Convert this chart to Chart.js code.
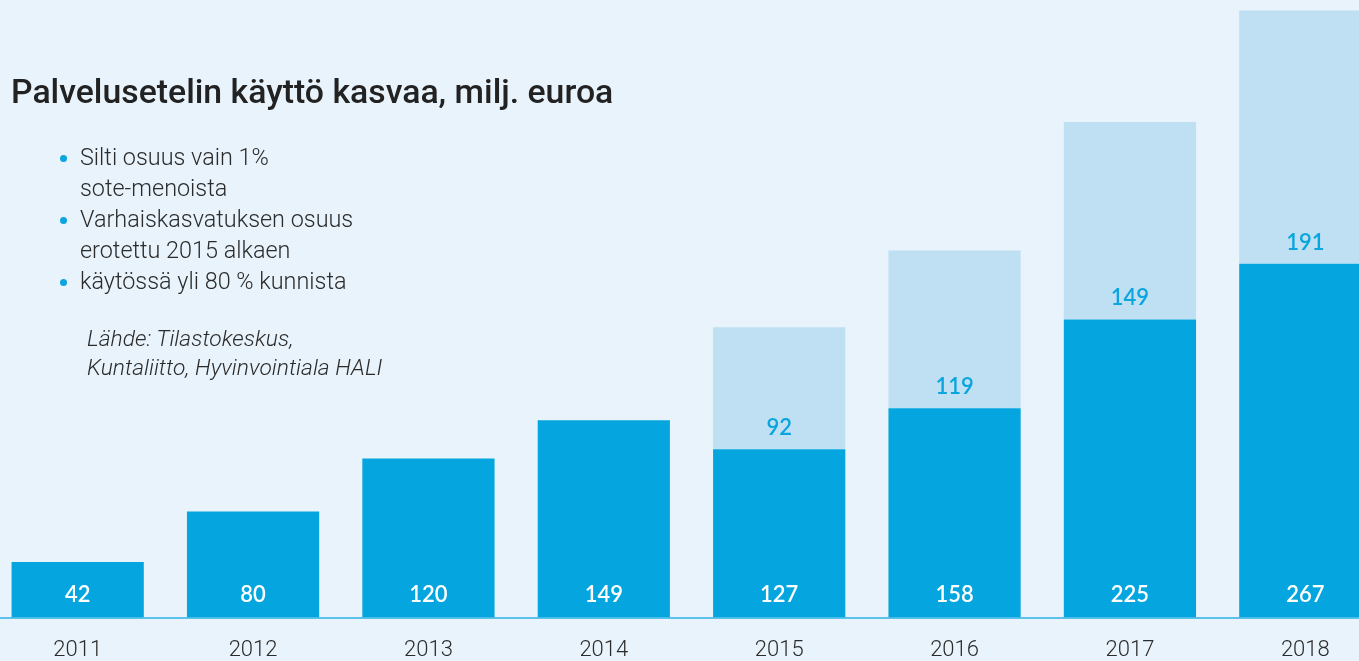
<!DOCTYPE html>
<html lang="fi">
<head>
<meta charset="UTF-8" />
<title>Palvelusetelin käyttö kasvaa</title>
<script src="https://cdn.jsdelivr.net/npm/chart.js"></script>
<style>
  html, body {
    margin: 0;
    width: 1359px;
    height: 661px;
    overflow: hidden;
    background: #e8f3fb;
    font-family: "Roboto", "Open Sans", sans-serif;
  }
  #wrap {
    position: absolute;
    left: -10px;
    top: 0;
    width: 1403px;
    height: 661px;
  }
  .title {
    position: absolute;
    left: 11px;
    top: 72px;
    font-size: 33.8px;
    font-weight: 500;
    color: #222;
    white-space: nowrap;
  }
  ul.notes {
    position: absolute;
    left: 58px;
    top: 142px;
    margin: 0;
    padding: 0;
    list-style: none;
    font-size: 23.4px;
    line-height: 31px;
    color: #2b2b2b;
    font-weight: 300;
  }
  ul.notes li {
    position: relative;
    padding-left: 22px;
  }
  ul.notes li::before {
    content: "";
    position: absolute;
    left: 2px;
    top: 13px;
    width: 7px;
    height: 7px;
    border-radius: 50%;
    background: #0aa5df;
  }
  .source {
    position: absolute;
    left: 87px;
    top: 324px;
    font-size: 22.8px;
    line-height: 29px;
    font-style: italic;
    font-weight: 300;
    color: #2b2b2b;
  }
</style>
</head>
<body>
<div id="wrap"><canvas id="chart"></canvas></div>

<div class="title">Palvelusetelin käyttö kasvaa, milj. euroa</div>
<ul class="notes">
  <li>Silti osuus vain 1%<br>sote-menoista</li>
  <li>Varhaiskasvatuksen osuus<br>erotettu 2015 alkaen</li>
  <li>käytössä yli 80 % kunnista</li>
</ul>
<div class="source">Lähde: Tilastokeskus,<br>Kuntaliitto, Hyvinvointiala HALI</div>

<script>
const years = ["2011", "2012", "2013", "2014", "2015", "2016", "2017", "2018"];
const serviceVoucher = [42, 80, 120, 149, 127, 158, 225, 267];
const earlyEducation = [null, null, null, null, 92, 119, 149, 191];

// numbers written on the bars
const barLabels = {
  id: "barLabels",
  afterDatasetsDraw(chart) {
    const ctx = chart.ctx;
    const dark = chart.getDatasetMeta(0).data;
    const light = chart.getDatasetMeta(1).data;
    ctx.save();
    ctx.font = "600 22px Lato, 'Open Sans', sans-serif";
    ctx.textAlign = "center";
    ctx.textBaseline = "middle";
    dark.forEach((bar, i) => {
      ctx.fillStyle = "#ffffff";
      ctx.fillText(serviceVoucher[i], bar.x, bar.base - 23);
      if (earlyEducation[i] != null) {
        ctx.fillStyle = "#0aa5df";
        ctx.fillText(earlyEducation[i], light[i].x, bar.y - 21);
      }
    });
    ctx.restore();
  }
};

new Chart(document.getElementById("chart"), {
  type: "bar",
  data: {
    labels: years,
    datasets: [
      {
        label: "Palveluseteli",
        data: serviceVoucher,
        backgroundColor: "#05a6df",
        barPercentage: 0.754,
        categoryPercentage: 1,
      },
      {
        label: "Varhaiskasvatus",
        data: earlyEducation,
        backgroundColor: "#bfdff3",
        barPercentage: 0.754,
        categoryPercentage: 1,
      },
    ],
  },
  options: {
    responsive: true,
    maintainAspectRatio: false,
    animation: false,
    layout: { padding: { top: 0, left: 0, right: 0, bottom: -23 } },
    plugins: {
      legend: { display: false },
      tooltip: { enabled: false },
    },
    scales: {
      x: {
        stacked: true,
        grid: { display: false, drawTicks: false },
        border: { display: true, color: "#5cc2ec", width: 2 },
        ticks: {
          padding: 20,
          color: "#2b2b2b",
          font: { family: "Roboto", size: 22, weight: 300 },
        },
      },
      y: {
        stacked: true,
        display: false,
        min: 0,
        max: 466,
      },
    },
  },
  plugins: [barLabels],
});
</script>
</body>
</html>
